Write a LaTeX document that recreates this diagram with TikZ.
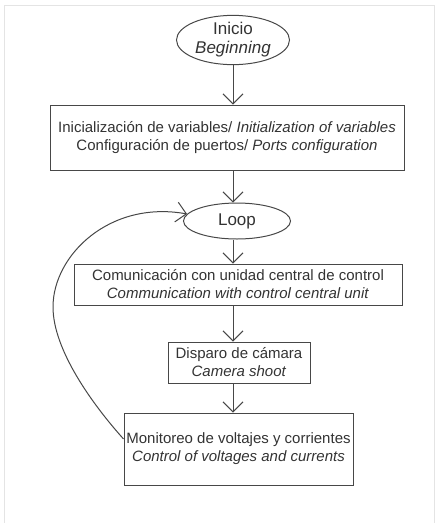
\documentclass[tikz,border=0pt]{standalone}
\usepackage{fontspec}
\setmainfont{Liberation Sans}
\usetikzlibrary{shapes.geometric, arrows.meta}
\definecolor{linegray}{HTML}{474747}
\definecolor{textgray}{HTML}{333333}
\definecolor{framegray}{HTML}{E4E4E4}
\tikzset{
  font=\fontsize{15}{18}\selectfont,
  % Set arrowhead
  >={Straight Barb[length=10pt, width=20pt]},
  % Terminal node
  tnode/.style={draw=linegray, shape=ellipse, line width=1pt,
    text=textgray, inner sep=0pt, align=center,
    font=\fontsize{17}{19}\selectfont},
  % Process node
  pnode/.style={draw=linegray, shape=rectangle, line width=1pt,
    text=textgray, inner sep=0pt, align=center},
  % Arrows
  flow/.style={->, draw=linegray, line width=1pt},
}

\begin{document}
\begin{tikzpicture}[x=1pt, y=-1pt]
  \useasboundingbox (0,0) rectangle (442,523);
  % page frame
  \draw[framegray, line width=1pt] (4.5,523) -- (4.5,5) -- (434.5,5) -- (434.5,523);

  \node[tnode, minimum width=113pt, minimum height=49pt] (start) at (233,40)
    {Inicio\\\textit{Beginning}};
  \node[pnode, minimum width=354pt, minimum height=65pt] (init) at (227,137.5)
    {Inicialización de variables/ \textit{Initialization of variables}\\
     Configuración de puertos/ \textit{Ports configuration}};
  \node[tnode, minimum width=107pt, minimum height=36pt] (loop) at (237,221) {Loop};
  \node[pnode, minimum width=328pt, minimum height=41pt] (comm) at (238,284.5)
    {Comunicación con unidad central de control\\
     \textit{Communication with control central unit}};
  \node[pnode, minimum width=142pt, minimum height=41pt] (shot) at (239,362.5)
    {Disparo de cámara\\\textit{Camera shoot}};
  \node[pnode, minimum width=229pt, minimum height=72pt] (monitor) at (238.5,449)
    {Monitoreo de voltajes y corrientes\\
     \textit{Control of voltages and currents}};

  \draw[flow] (start.south) -- (start.south |- init.north);
  \draw[flow] (start.south |- init.south) -- (start.south |- loop.north);
  \draw[flow] (start.south |- loop.south) -- (start.south |- comm.north);
  \draw[flow] (start.south |- comm.south) -- (start.south |- shot.north);
  \draw[flow] (start.south |- shot.south) -- (start.south |- monitor.north);
  % back to the loop
  \draw[flow] (monitor.175) .. controls (93,405) and (53,350) .. (53,307)
    .. controls (53,255) and (110,200) .. (loop.172);
\end{tikzpicture}
\end{document}
